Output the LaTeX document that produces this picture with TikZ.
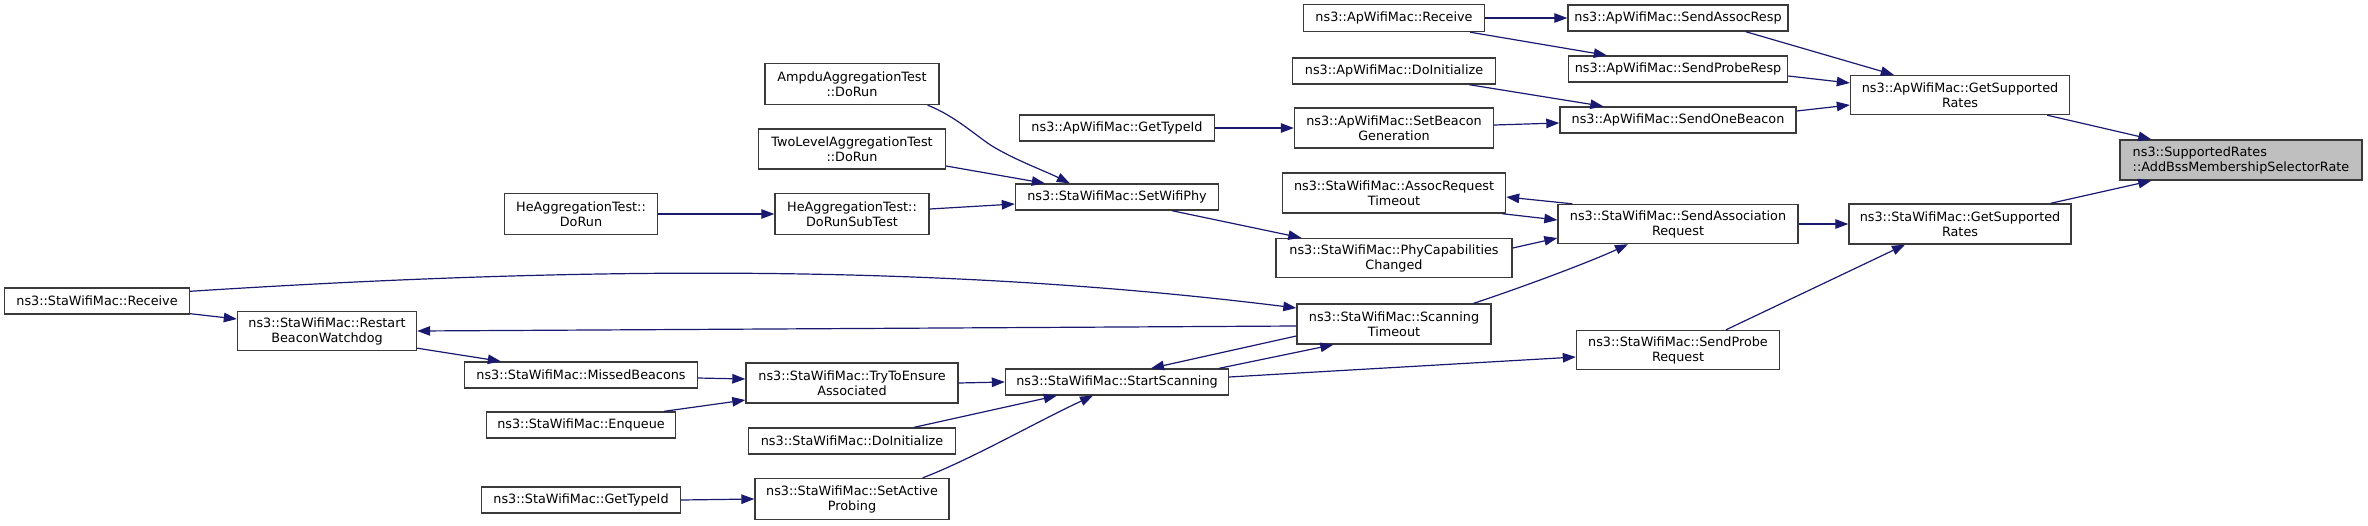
\documentclass[tikz,border=0pt]{standalone}
\usepackage{fontspec}
\setmainfont{DejaVu Sans}
\usetikzlibrary{arrows.meta,calc}
\definecolor{edgec}{HTML}{191970}
\definecolor{boxc}{HTML}{3A3A3A}
\definecolor{grayfill}{HTML}{BFBFBF}
\begin{document}
\begin{tikzpicture}[x=1pt,y=-1pt,
  fn/.style={draw=boxc, line width=1.4pt, fill=white, inner sep=0pt, align=center,
    font=\fontsize{12.8}{15}\selectfont},
  ed/.style={draw=edgec, line width=1.2pt, -{Triangle[length=13pt,width=9.5pt]}}]
\useasboundingbox (0,0) rectangle (2368,525);
% rank 1
\node[fn, minimum width=185pt, minimum height=26pt] (recv) at (97,301) {ns3::StaWifiMac::Receive};
% rank 2
\node[fn, minimum width=179pt, minimum height=39pt] (restart) at (327,331) {ns3::StaWifiMac::Restart\\BeaconWatchdog};
% rank 3
\node[fn, minimum width=153pt, minimum height=41pt] (heagg) at (581,214) {HeAggregationTest::\\DoRun};
\node[fn, minimum width=233pt, minimum height=26pt] (missed) at (581,375) {ns3::StaWifiMac::MissedBeacons};
\node[fn, minimum width=189pt, minimum height=26pt] (enq) at (581,425) {ns3::StaWifiMac::Enqueue};
\node[fn, minimum width=199pt, minimum height=26pt] (stagti) at (581,500) {ns3::StaWifiMac::GetTypeId};
% rank 4
\node[fn, minimum width=174pt, minimum height=41pt] (ampdu) at (852,84) {AmpduAggregationTest\\::DoRun};
\node[fn, minimum width=187pt, minimum height=40pt] (twolevel) at (852,149) {TwoLevelAggregationTest\\::DoRun};
\node[fn, minimum width=154pt, minimum height=41pt] (subtest) at (852,214) {HeAggregationTest::\\DoRunSubTest};
\node[fn, minimum width=212pt, minimum height=40pt] (tryens) at (852,383) {ns3::StaWifiMac::TryToEnsure\\Associated};
\node[fn, minimum width=207pt, minimum height=26pt] (stadoinit) at (852,441) {ns3::StaWifiMac::DoInitialize};
\node[fn, minimum width=194pt, minimum height=41pt] (active) at (852,499) {ns3::StaWifiMac::SetActive\\Probing};
% rank 5
\node[fn, minimum width=195pt, minimum height=26pt] (apgti) at (1117,128) {ns3::ApWifiMac::GetTypeId};
\node[fn, minimum width=203pt, minimum height=26pt] (setwifiphy) at (1117,197) {ns3::StaWifiMac::SetWifiPhy};
\node[fn, minimum width=223pt, minimum height=26pt] (startscan) at (1117,382) {ns3::StaWifiMac::StartScanning};
% rank 6
\node[fn, minimum width=181pt, minimum height=27pt] (aprecv) at (1394,18) {ns3::ApWifiMac::Receive};
\node[fn, minimum width=203pt, minimum height=26pt] (apdoinit) at (1394,71) {ns3::ApWifiMac::DoInitialize};
\node[fn, minimum width=199pt, minimum height=40pt] (beacongen) at (1394,128) {ns3::ApWifiMac::SetBeacon\\Generation};
\node[fn, minimum width=223pt, minimum height=40pt] (art) at (1394,193) {ns3::StaWifiMac::AssocRequest\\Timeout};
\node[fn, minimum width=236pt, minimum height=39pt] (phycap) at (1394,258) {ns3::StaWifiMac::PhyCapabilities\\Changed};
\node[fn, minimum width=194pt, minimum height=40pt] (scanto) at (1394,324) {ns3::StaWifiMac::Scanning\\Timeout};
% rank 7
\node[fn, minimum width=220pt, minimum height=26pt] (assocresp) at (1678,18) {ns3::ApWifiMac::SendAssocResp};
\node[fn, minimum width=219pt, minimum height=26pt] (proberesp) at (1678,69) {ns3::ApWifiMac::SendProbeResp};
\node[fn, minimum width=236pt, minimum height=26pt] (onebeacon) at (1678,120) {ns3::ApWifiMac::SendOneBeacon};
\node[fn, minimum width=240pt, minimum height=39pt] (sar) at (1678,224) {ns3::StaWifiMac::SendAssociation\\Request};
\node[fn, minimum width=203pt, minimum height=39pt] (spr) at (1678,350) {ns3::StaWifiMac::SendProbe\\Request};
% rank 8
\node[fn, minimum width=219pt, minimum height=39pt] (apgsr) at (1960,95) {ns3::ApWifiMac::GetSupported\\Rates};
\node[fn, minimum width=222pt, minimum height=40pt] (stagsr) at (1960,224) {ns3::StaWifiMac::GetSupported\\Rates};
% rank 9
\node[fn, fill=grayfill, align=left, minimum width=242pt, minimum height=40pt] (gray) at (2241,160) {ns3::SupportedRates\\::AddBssMembershipSelectorRate};
% edges
\draw[ed] (aprecv.east) -- (assocresp.west);
\draw[ed] ($(aprecv.south east)+(-15,0)$) -- ($(proberesp.north west)+(39,0)$);
\draw[ed] ($(apdoinit.south east)+(-27,0)$) -- ($(onebeacon.north west)+(44,0)$);
\draw[ed] ($(beacongen.east)+(0,-3)$) -- ($(onebeacon.west)+(0,3)$);
\draw[ed] (apgti.east) -- (beacongen.west);
\draw[ed] ($(assocresp.south east)+(-43,0)$) -- ($(apgsr.north west)+(44,0)$);
\draw[ed] ($(proberesp.east)+(0,7)$) -- ($(apgsr.west)+(0,-12)$);
\draw[ed] ($(onebeacon.east)+(0,-9)$) -- ($(apgsr.west)+(0,10)$);
\draw[ed] ($(apgsr.south east)+(-23,0)$) -- ($(gray.north west)+(32,0)$);
\draw[ed] ($(stagsr.north east)+(-21,0)$) -- ($(gray.south west)+(32,0)$);
\draw[ed] (sar.east) -- (stagsr.west);
\draw[ed] ($(spr.north)+(48,0)$) -- ($(stagsr.south)+(-55,0)$);
\draw[ed] ($(sar.north west)+(15,0)$) -- ($(art.east)+(0,4)$);
\draw[ed] ($(art.south east)+(-4,0)$) -- ($(sar.west)+(0,-4)$);
\draw[ed] ($(phycap.east)+(0,-10)$) -- ($(sar.west)+(0,14)$);
\draw[ed] ($(scanto.north east)+(-18,0)$) .. controls (1520,288) and (1590,262) .. ($(sar.south)+(-50,0)$);
\draw[ed] ($(setwifiphy.south)+(55,0)$) -- ($(phycap.north west)+(26,0)$);
\draw[ed] ($(ampdu.south east)+(-12,0)$) .. controls (955,116) and (975,135) .. (992,146) .. controls (1015,160) and (1045,171) .. ($(setwifiphy.north west)+(55,0)$);
\draw[ed] ($(twolevel.east)+(0,17)$) -- ($(setwifiphy.north west)+(30,0)$);
\draw[ed] ($(subtest.east)+(0,-5)$) -- ($(setwifiphy.west)+(0,7)$);
\draw[ed] (heagg.east) -- (subtest.west);
\draw[ed] ($(recv.north east)+(0,4)$) .. controls (600,265) and (950,265) .. ($(scanto.west)+(0,-16)$);
\draw[ed] ($(recv.south east)+(0,-1)$) -- ($(restart.west)+(0,-12)$);
\draw[ed] ($(scanto.west)+(0,2)$) -- (restart.east);
\draw[ed] ($(restart.south east)+(0,-3)$) -- ($(missed.north west)+(37,0)$);
\draw[ed] ($(missed.east)+(0,3)$) -- ($(tryens.west)+(0,-4)$);
\draw[ed] ($(enq.north east)+(-12,0)$) -- ($(tryens.west)+(0,17)$);
\draw[ed] (tryens.east) -- (startscan.west);
\draw[ed] ($(stadoinit.north east)+(-42,0)$) -- ($(startscan.south west)+(52,0)$);
\draw[ed] ($(active.north east)+(-27,0)$) .. controls (970,460) and (1040,420) .. ($(startscan.south)+(-24,0)$);
\draw[ed] (stagti.east) -- (active.west);
\draw[ed] ($(scanto.west)+(0,12)$) -- ($(startscan.north)+(34,0)$);
\draw[ed] ($(startscan.north east)+(-10,0)$) -- ($(scanto.south west)+(37,0)$);
\draw[ed] ($(startscan.east)+(0,-5)$) -- ($(spr.west)+(0,7)$);
\end{tikzpicture}
\end{document}
